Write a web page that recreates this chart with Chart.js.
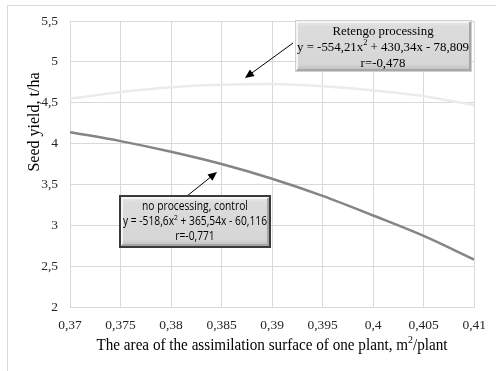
<!DOCTYPE html>
<html>
<head>
<meta charset="utf-8">
<script src="https://cdn.jsdelivr.net/npm/chart.js@4.4.1/dist/chart.umd.min.js"></script>
<style>
  html, body { margin: 0; padding: 0; background: #fff; }
  #wrap { width: 496px; height: 371px; }
</style>
</head>
<body>
<div id="wrap"><canvas id="yield-chart" width="496" height="371"></canvas></div>
<script>
// plant assimilation surface, m2/plant
var areaValues = [0.37, 0.375, 0.38, 0.385, 0.39, 0.395, 0.40, 0.405, 0.41];
// seed yield, t/ha
var controlYield = [4.14, 4.03, 3.90, 3.75, 3.57, 3.36, 3.12, 2.87, 2.58];
var retengoYield = [4.55, 4.63, 4.69, 4.72, 4.73, 4.70, 4.65, 4.58, 4.47];
var yTicks = [2, 2.5, 3, 3.5, 4, 4.5, 5, 5.5];
var xTicks = [0.37, 0.375, 0.38, 0.385, 0.39, 0.395, 0.4, 0.405, 0.41];

var serif = '"Liberation Serif", "Times New Roman", serif';
var sans = '"Open Sans", "Liberation Sans", sans-serif';

function toComma(v) {
    return String(Number(v.toFixed(3))).replace('.', ',');
}

function pairs(xs, ys) {
    return xs.map(function (x, i) { return { x: x, y: ys[i] }; });
}

function measureParts(ctx, parts, size, family) {
    var total = 0;
    parts.forEach(function (p) {
        ctx.font = (p[1] ? size * 0.65 : size) + 'px ' + family;
        total += ctx.measureText(p[0]).width;
    });
    return total;
}

// draws a line made of [text, superscript] parts, centred on cx, squeezed by sx
function drawParts(ctx, parts, cx, cy, size, family, color, sx) {
    sx = sx || 1;
    var total = measureParts(ctx, parts, size, family);
    ctx.save();
    ctx.translate(cx, cy);
    ctx.scale(sx, 1);
    var x = -total / 2;
    ctx.fillStyle = color;
    ctx.textBaseline = 'middle';
    ctx.textAlign = 'left';
    parts.forEach(function (p) {
        ctx.font = (p[1] ? size * 0.65 : size) + 'px ' + family;
        ctx.fillText(p[0], x, p[1] ? -size * 0.33 : 0);
        x += ctx.measureText(p[0]).width;
    });
    ctx.restore();
}

function drawBox(ctx, x, y, w, h, dark) {
    var g = ctx.createLinearGradient(0, y, 0, y + h);
    g.addColorStop(0, '#efefef');
    g.addColorStop(0.12, '#dcdcdc');
    g.addColorStop(0.85, '#d6d6d6');
    g.addColorStop(1, '#b8b8b8');
    ctx.fillStyle = g;
    ctx.fillRect(x, y, w, h);
    // bevel
    ctx.lineWidth = 2;
    ctx.strokeStyle = '#f4f4f4';
    ctx.beginPath();
    ctx.moveTo(x + 2, y + h - 2); ctx.lineTo(x + 2, y + 2); ctx.lineTo(x + w - 2, y + 2);
    ctx.stroke();
    ctx.strokeStyle = '#a6a6a6';
    ctx.beginPath();
    ctx.moveTo(x + 2, y + h - 2); ctx.lineTo(x + w - 2, y + h - 2); ctx.lineTo(x + w - 2, y + 2);
    ctx.stroke();
    if (dark) {
        ctx.lineWidth = 2;
        ctx.strokeStyle = '#3a3a3a';
        ctx.strokeRect(x, y, w, h);
    } else {
        ctx.lineWidth = 1;
        ctx.strokeStyle = '#cfcfcf';
        ctx.strokeRect(x + 0.5, y + 0.5, w - 1, h - 1);
    }
}

function drawArrow(ctx, x1, y1, x2, y2) {
    var a = Math.atan2(y2 - y1, x2 - x1);
    ctx.strokeStyle = '#000';
    ctx.fillStyle = '#000';
    ctx.lineWidth = 1;
    ctx.beginPath();
    ctx.moveTo(x1, y1);
    ctx.lineTo(x2 - 6 * Math.cos(a), y2 - 6 * Math.sin(a));
    ctx.stroke();
    ctx.beginPath();
    ctx.moveTo(x2, y2);
    ctx.lineTo(x2 - 9 * Math.cos(a) + 4 * Math.sin(a), y2 - 9 * Math.sin(a) - 4 * Math.cos(a));
    ctx.lineTo(x2 - 9 * Math.cos(a) - 4 * Math.sin(a), y2 - 9 * Math.sin(a) + 4 * Math.cos(a));
    ctx.closePath();
    ctx.fill();
}

var decorations = {
    id: 'decorations',
    beforeDraw: function (chart) {
        var ctx = chart.ctx;
        ctx.save();
        ctx.fillStyle = '#fff';
        ctx.fillRect(0, 0, chart.width, chart.height);
        ctx.strokeStyle = '#d9d9d9';
        ctx.lineWidth = 1;
        ctx.strokeRect(7.5, 5.5, chart.width, chart.height);
        ctx.restore();
    },
    afterDraw: function (chart) {
        var ctx = chart.ctx;
        ctx.save();
        // axis titles
        ctx.fillStyle = '#000';
        ctx.font = '16px ' + serif;
        ctx.textAlign = 'center';
        ctx.textBaseline = 'middle';
        ctx.save();
        ctx.translate(35, 122);
        ctx.rotate(-Math.PI / 2);
        ctx.fillText('Seed yield, t/ha', 0, 0);
        ctx.restore();
        var xTitle = [['The area of the assimilation surface of one plant, m', false], ['2', true], ['/plant', false]];
        drawParts(ctx, xTitle, 272, 346, 16, serif, '#000', 351 / measureParts(ctx, xTitle, 16, serif));

        // Retengo label
        drawArrow(ctx, 293, 43, 245, 78);
        drawBox(ctx, 295, 20, 177, 52, false);
        var eqR = [['y = -554,21x', false], ['2', true], [' + 430,34x - 78,809', false]];
        var sR = 172 / measureParts(ctx, eqR, 13.5, serif);
        drawParts(ctx, [['Retengo processing', false]], 383, 31, 13.5, serif, '#000', sR);
        drawParts(ctx, eqR, 383, 47, 13.5, serif, '#000', sR);
        drawParts(ctx, [['r=-0,478', false]], 383, 63, 13.5, serif, '#000', sR);

        // control label
        drawArrow(ctx, 187, 196, 217, 172);
        drawBox(ctx, 120, 196, 150, 51, true);
        var eqC = [['y = -518,6x', false], ['2', true], [' + 365,54x - 60,116', false]];
        var sC = 144 / measureParts(ctx, eqC, 12, sans);
        drawParts(ctx, [['no processing, control', false]], 195, 207, 12, sans, '#000', sC);
        drawParts(ctx, eqC, 195, 222, 12, sans, '#000', sC);
        drawParts(ctx, [['r=-0,771', false]], 195, 237, 12, sans, '#000', sC);
        ctx.restore();
    }
};

document.addEventListener('DOMContentLoaded', function () {
    var ctx = document.getElementById('yield-chart').getContext('2d');
    var yieldChart = new Chart(ctx, {
        type: 'line',
        data: {
            datasets: [{
                label: 'no processing, control',
                data: pairs(areaValues, controlYield),
                borderColor: '#858585',
                borderWidth: 2.5,
                pointRadius: 0,
                cubicInterpolationMode: 'monotone',
                fill: false
            }, {
                label: 'Retengo processing',
                data: pairs(areaValues, retengoYield),
                borderColor: '#ebebeb',
                borderWidth: 2.5,
                pointRadius: 0,
                cubicInterpolationMode: 'monotone',
                fill: false
            }]
        },
        options: {
            responsive: false,
            animation: false,
            layout: { padding: { left: 0, right: 21, top: 21, bottom: 0 } },
            plugins: {
                legend: { display: false },
                tooltip: { enabled: false }
            },
            scales: {
                x: {
                    type: 'linear',
                    min: 0.37,
                    max: 0.41,
                    afterBuildTicks: function (axis) {
                        axis.ticks = xTicks.map(function (v) { return { value: v }; });
                    },
                    afterFit: function (axis) { axis.height = 64; },
                    grid: { color: '#d9d9d9', lineWidth: 1, drawTicks: false },
                    border: { color: '#d9d9d9' },
                    ticks: {
                        padding: 10,
                        maxRotation: 0,
                        color: '#262626',
                        font: { family: serif, size: 13.5 },
                        callback: function (v) { return toComma(v); }
                    }
                },
                y: {
                    min: 2,
                    max: 5.5,
                    afterBuildTicks: function (axis) {
                        axis.ticks = yTicks.map(function (v) { return { value: v }; });
                    },
                    afterFit: function (axis) { axis.width = 70; },
                    grid: { color: '#d9d9d9', lineWidth: 1, drawTicks: false },
                    border: { color: '#d9d9d9' },
                    ticks: {
                        padding: 12,
                        color: '#262626',
                        font: { family: serif, size: 13.5 },
                        callback: function (v) { return toComma(v); }
                    }
                }
            }
        },
        plugins: [decorations]
    });
});
</script>
</body>
</html>
